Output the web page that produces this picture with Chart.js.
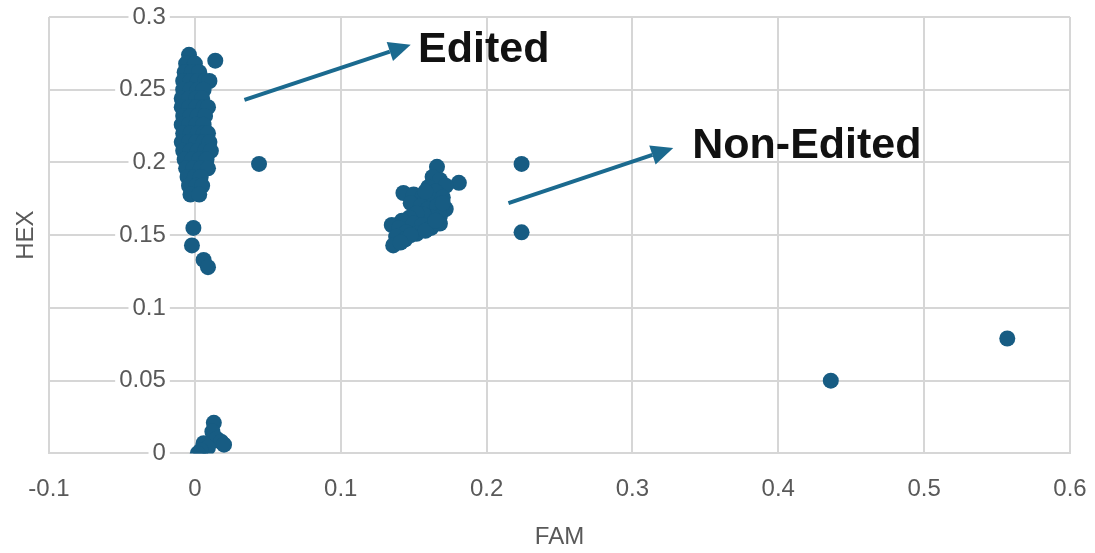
<!DOCTYPE html>
<html>
<head>
<meta charset="utf-8">
<script src="https://cdn.jsdelivr.net/npm/chart.js@4.4.1/dist/chart.umd.min.js"></script>
<style>
  html, body { margin: 0; padding: 0; background: #ffffff; }
  #wrap { width: 1095px; height: 553px; }
</style>
</head>
<body>
<div id="wrap"><canvas id="c" width="1095" height="553"></canvas></div>
<script>
// ---- Data (FAM, HEX) pairs ----
const editedMain = [
  [-0.004,0.274],
  [-0.006,0.268],[0.000,0.268],
  [-0.007,0.262],[-0.002,0.262],[0.003,0.262],
  [-0.008,0.256],[-0.003,0.256],[0.002,0.256],[0.007,0.256],[0.010,0.256],
  [-0.008,0.250],[-0.003,0.250],[0.002,0.250],[0.006,0.250],
  [-0.009,0.244],[-0.004,0.244],[0.001,0.244],[0.005,0.244],
  [-0.009,0.238],[-0.004,0.238],[0.001,0.238],[0.006,0.238],[0.009,0.238],
  [-0.008,0.232],[-0.003,0.232],[0.002,0.232],[0.007,0.232],
  [-0.009,0.226],[-0.004,0.226],[0.001,0.226],[0.006,0.226],
  [-0.008,0.220],[-0.003,0.220],[0.002,0.220],[0.006,0.220],[0.009,0.220],
  [-0.009,0.214],[-0.004,0.214],[0.001,0.214],[0.006,0.214],[0.010,0.214],
  [-0.008,0.208],[-0.003,0.208],[0.002,0.208],[0.007,0.208],[0.011,0.208],
  [-0.007,0.202],[-0.002,0.202],[0.003,0.202],[0.008,0.202],
  [-0.006,0.196],[-0.001,0.196],[0.004,0.196],[0.009,0.196],
  [-0.005,0.190],[0.000,0.190],[0.004,0.190],
  [-0.004,0.184],[0.001,0.184],[0.005,0.184],
  [-0.003,0.178],[0.003,0.178]
];
const editedStray = [
  [0.014,0.270],[0.044,0.199],
  [-0.001,0.155],[-0.002,0.143],[0.006,0.133],[0.009,0.128]
];
const nearZero = [
  [0.013,0.021],[0.012,0.015],[0.015,0.010],[0.018,0.008],[0.006,0.007],
  [0.020,0.006],[0.009,0.004],[0.004,0.002],[0.002,0.000]
];
const nonEdited = [
  [0.166,0.197],[0.163,0.190],[0.168,0.188],[0.181,0.186],[0.172,0.184],
  [0.160,0.183],[0.165,0.180],[0.143,0.179],[0.150,0.178],[0.156,0.176],
  [0.162,0.175],[0.170,0.176],[0.148,0.172],[0.155,0.170],[0.160,0.168],
  [0.166,0.170],[0.172,0.168],[0.168,0.163],[0.163,0.162],[0.157,0.164],
  [0.152,0.165],[0.147,0.162],[0.142,0.160],[0.150,0.158],[0.156,0.157],
  [0.162,0.155],[0.168,0.158],[0.135,0.157],[0.140,0.155],[0.145,0.152],
  [0.152,0.151],[0.158,0.153],[0.138,0.149],[0.144,0.147],[0.148,0.150],
  [0.136,0.143],[0.141,0.145],[0.165,0.160],[0.170,0.172],[0.158,0.180]
];
const outliers = [
  [0.224,0.199],[0.224,0.152],[0.436,0.050],[0.557,0.079]
];

const xTicks = [-0.1, 0, 0.1, 0.2, 0.3, 0.4, 0.5, 0.6];
const yTicks = [0, 0.05, 0.1, 0.15, 0.2, 0.25, 0.3];
const xTitle = 'FAM';
const yTitle = 'HEX';

// annotation arrows / labels (in data units)
const arrowFrom = [[0.034,0.243],[0.215,0.172]];
const arrowTo   = [[0.148,0.281],[0.328,0.210]];
const noteText  = ['Edited','Non-Edited'];
const noteAt    = [[0.153,0.277],[0.341,0.211]];

// ---- Chart ----
const FONT = "'Liberation Sans', Arial, sans-serif";
const GRID = '#d6d6d6';
const TICK = '#595959';
const DOT = '#175c83';
const ARROW = '#1b6a8f';
const Y_LABEL_GAP = 29;

const toPts = arr => arr.map(p => ({x: p[0], y: p[1]}));
const allPts = [].concat(toPts(editedMain), toPts(editedStray), toPts(nearZero), toPts(nonEdited), toPts(outliers));

// y axis sits at FAM = 0; push its labels left of the axis line
const shiftYLabels = {
  id: 'shiftYLabels',
  beforeDraw(chart) {
    const items = chart.scales.y.getLabelItems();
    items.forEach(it => {
      if (it._shifted) return;
      it._shifted = true;
      it.options.translation[0] -= Y_LABEL_GAP;
    });
  }
};

const annotPlugin = {
  id: 'annot',
  afterDatasetsDraw(chart) {
    const ctx = chart.ctx, xs = chart.scales.x, ys = chart.scales.y;
    ctx.save();
    for (let i = 0; i < arrowFrom.length; i++) {
      const x1 = xs.getPixelForValue(arrowFrom[i][0]), y1 = ys.getPixelForValue(arrowFrom[i][1]);
      const x2 = xs.getPixelForValue(arrowTo[i][0]), y2 = ys.getPixelForValue(arrowTo[i][1]);
      const ang = Math.atan2(y2 - y1, x2 - x1);
      const head = 22, hw = 10;
      const bx = x2 - head * Math.cos(ang), by = y2 - head * Math.sin(ang);
      ctx.strokeStyle = ARROW; ctx.fillStyle = ARROW; ctx.lineWidth = 4; ctx.lineCap = 'butt';
      ctx.beginPath(); ctx.moveTo(x1, y1); ctx.lineTo(bx, by); ctx.stroke();
      ctx.beginPath();
      ctx.moveTo(x2, y2);
      ctx.lineTo(bx + hw * Math.sin(ang), by - hw * Math.cos(ang));
      ctx.lineTo(bx - hw * Math.sin(ang), by + hw * Math.cos(ang));
      ctx.closePath(); ctx.fill();
    }
    ctx.fillStyle = '#111111';
    ctx.font = "bold 43px " + FONT;
    ctx.textAlign = 'left'; ctx.textBaseline = 'middle';
    for (let i = 0; i < noteText.length; i++) {
      ctx.fillText(noteText[i], xs.getPixelForValue(noteAt[i][0]), ys.getPixelForValue(noteAt[i][1]));
    }
    ctx.restore();
  }
};

new Chart(document.getElementById('c'), {
  type: 'scatter',
  data: {
    datasets: [{
      label: 'HEX',
      data: allPts,
      backgroundColor: DOT,
      borderColor: DOT,
      borderWidth: 0,
      pointRadius: 8,
      pointHoverRadius: 8,
      xAxisID: 'x',
      yAxisID: 'y'
    }]
  },
  options: {
    responsive: false,
    animation: false,
    devicePixelRatio: 1,
    layout: { padding: { top: 17, right: 25, left: 0, bottom: 0 } },
    plugins: { legend: { display: false }, tooltip: { enabled: false } },
    scales: {
      x: {
        type: 'linear', position: 'bottom', min: -0.1, max: 0.6,
        afterBuildTicks: a => { a.ticks = xTicks.map(v => ({value: v})); },
        ticks: { color: TICK, font: { size: 24, family: FONT }, padding: 0, maxRotation: 0, autoSkip: false,
                 callback: v => String(Math.round(v * 10) / 10) },
        grid: { color: GRID, lineWidth: 2, drawTicks: true, tickLength: 22, tickColor: 'rgba(0,0,0,0)' },
        border: { color: GRID, width: 2 },
        title: { display: true, text: xTitle, color: TICK, font: { size: 24, family: FONT }, padding: { top: 19, bottom: 1 } }
      },
      y: {
        type: 'linear', position: { x: 0 }, min: 0, max: 0.3,
        afterBuildTicks: a => { a.ticks = yTicks.map(v => ({value: v})); },
        ticks: { color: TICK, font: { size: 24, family: FONT }, padding: 0,
                 showLabelBackdrop: true, backdropColor: '#ffffff', backdropPadding: { x: 4, y: 0 },
                 callback: v => String(Math.round(v * 100) / 100) },
        grid: { color: GRID, lineWidth: 2, drawTicks: false },
        border: { color: GRID, width: 2 }
      },
      yLabel: {
        type: 'linear', position: 'left', min: 0, max: 0.3,
        ticks: { display: false },
        grid: { display: false, drawTicks: false },
        border: { display: false },
        title: { display: true, text: yTitle, color: TICK, font: { size: 24, family: FONT }, padding: { top: 12, bottom: 0 } },
        afterFit: a => { a.width = 49; }
      }
    }
  },
  plugins: [shiftYLabels, annotPlugin]
});
</script>
</body>
</html>
